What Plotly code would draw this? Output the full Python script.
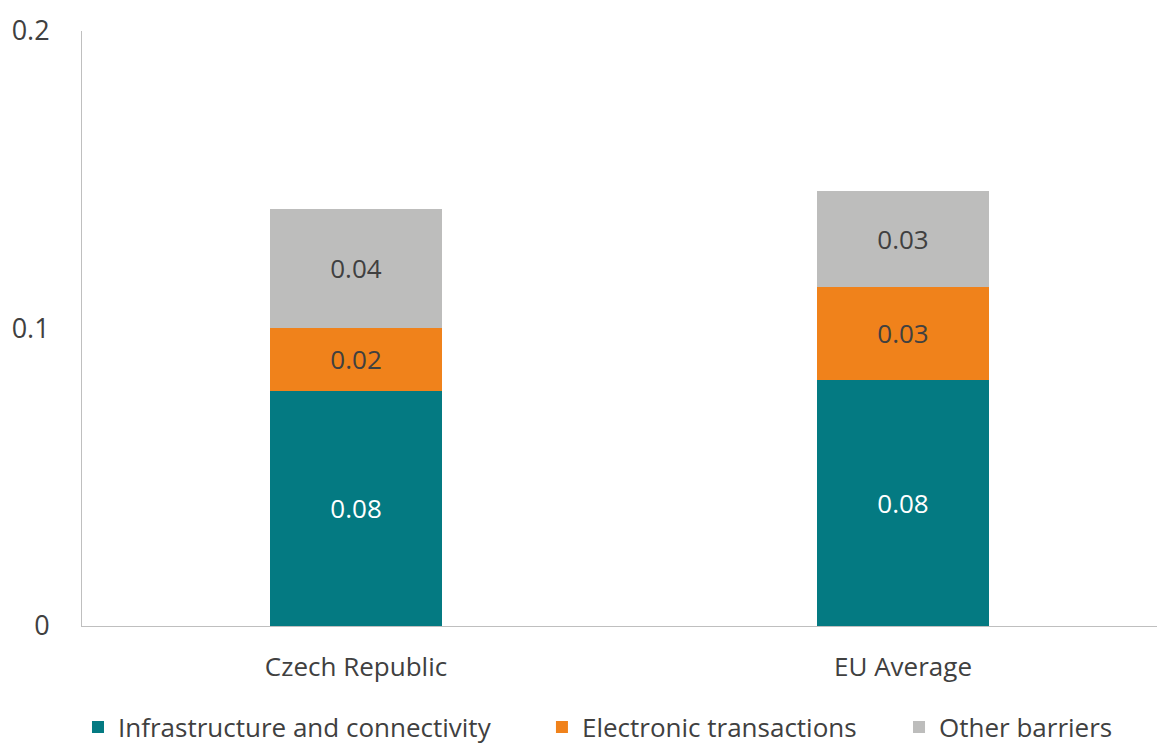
import plotly.graph_objects as go

TEAL = "#047A82"
ORANGE = "#F0821B"
GREY = "#BDBDBC"
INK = "#404040"
AXIS = "#BFBFBF"

categories = ["Czech Republic", "EU Average"]
infrastructure = [0.079, 0.0827]
electronic = [0.0212, 0.0313]
other = [0.040, 0.0323]

series = [
    ("Infrastructure and connectivity", infrastructure, TEAL, "white", "legend"),
    ("Electronic transactions", electronic, ORANGE, INK, "legend2"),
    ("Other barriers", other, GREY, INK, "legend3"),
]

fig = go.Figure()
for name, vals, color, txt, leg in series:
    fig.add_trace(
        go.Bar(
            x=categories,
            y=vals,
            name=name,
            marker=dict(color=color, line=dict(width=0)),
            width=0.314,
            texttemplate="%{y:.2f}",
            textposition="inside",
            insidetextanchor="middle",
            textfont=dict(color=txt, size=26),
            legend=leg,
        )
    )

font = dict(family="Open Sans, Arial, sans-serif", size=26, color=INK)
leg_common = dict(
    orientation="h",
    yanchor="middle",
    y=-0.17,
    xanchor="left",
    font=font,
    bgcolor="rgba(0,0,0,0)",
)

# the page body has an 8px margin, so the figure is sized to fill the rest of the window
fig.update_layout(
    barmode="stack",
    width=1157,
    height=738,
    margin=dict(l=74, r=0, t=23, b=120, autoexpand=False),
    paper_bgcolor="white",
    plot_bgcolor="white",
    font=font,
    showlegend=True,
    legend=dict(leg_common, x=-0.0037),
    legend2=dict(leg_common, x=0.4247),
    legend3=dict(leg_common, x=0.7544),
)
fig.update_xaxes(
    range=[-0.501, 1.479],
    automargin=False,
    showline=True,
    linecolor=AXIS,
    linewidth=1,
    showgrid=False,
    ticks="",
    ticklabelstandoff=18,
    tickfont=font,
)
fig.update_yaxes(
    range=[0, 0.2],
    automargin=False,
    tickvals=[0, 0.1, 0.2],
    ticktext=["0", "0.1", "0.2"],
    showline=True,
    linecolor=AXIS,
    linewidth=1,
    showgrid=False,
    zeroline=False,
    ticks="",
    ticklabelstandoff=26,
    tickfont=dict(font, size=27),
)

fig.write_html("out.html")
